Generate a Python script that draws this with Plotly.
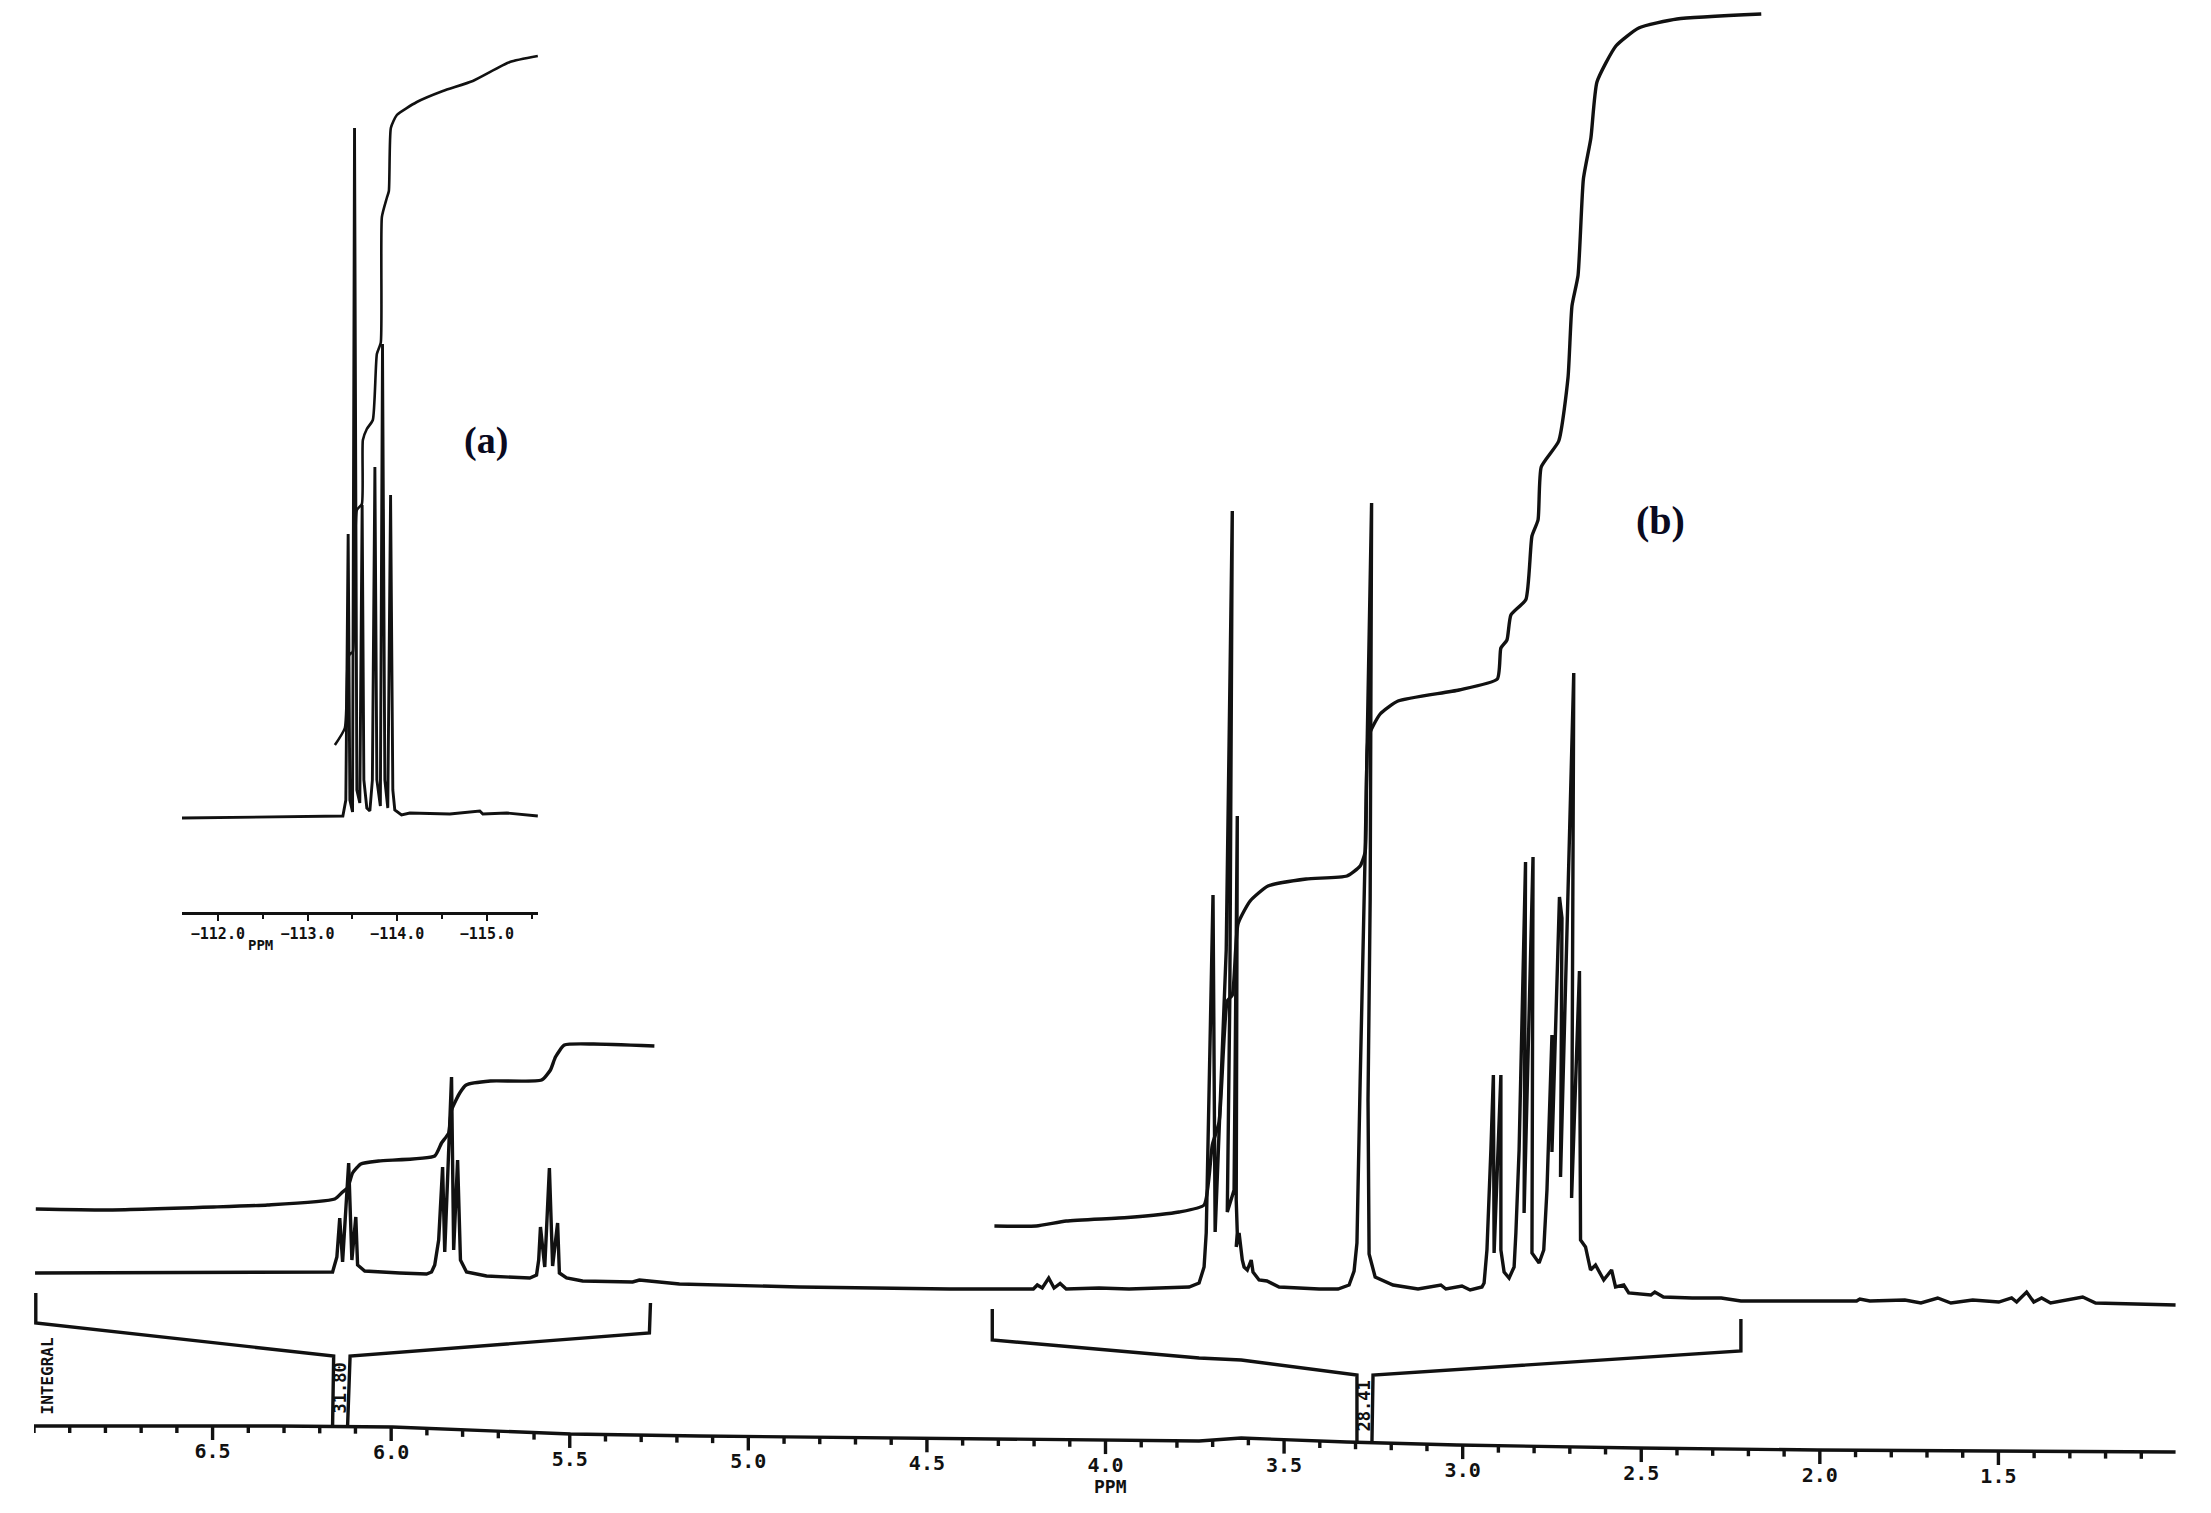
import numpy as np
import plotly.graph_objects as go

# main 1H spectrum, ppm against height above the baseline
h_ppm = [6.997,6.536,6.164,6.152,6.144,6.136,6.119,6.110,6.099,6.094,6.074,5.976,5.901,5.887,5.878,5.867,5.856,5.850,5.831,5.825,5.814,5.806,5.789,5.733,5.612,5.593,5.587,5.582,5.570,5.557,5.548,5.534,5.529,5.509,5.464,5.324,5.305,5.193,4.857,4.437,4.202,4.191,4.177,4.159,4.144,4.127,4.110,4.018,3.934,3.850,3.766,3.738,3.724,3.718,3.713,3.699,3.693,3.662,3.645,3.652,3.659,3.640,3.631,3.634,3.631,3.634,3.626,3.617,3.612,3.603,3.592,3.587,3.570,3.548,3.514,3.458,3.402,3.349,3.318,3.304,3.296,3.287,3.273,3.255,3.259,3.265,3.262,3.245,3.195,3.125,3.061,3.047,3.002,2.979,2.946,2.940,2.932,2.921,2.914,2.912,2.893,2.893,2.884,2.870,2.856,2.851,2.842,2.824,2.828,2.803,2.806,2.786,2.773,2.764,2.756,2.750,2.750,2.729,2.722,2.726,2.689,2.695,2.673,2.670,2.656,2.642,2.628,2.605,2.583,2.572,2.549,2.535,2.473,2.462,2.438,2.357,2.276,2.221,1.897,1.888,1.860,1.762,1.717,1.670,1.633,1.572,1.499,1.463,1.449,1.421,1.401,1.379,1.354,1.264,1.228,1.120,1.004]
h_int = [27,28,28,43,82,38,137,40,83,35,29,27,26,28,35,60,133,48,223,50,140,40,28,24,22,25,40,73,33,132,34,77,27,22,19,18,20,16,13,11,11,15,12,22,12,16.5,11,12,11,12,13,17,33,67,161,405,68,350,789,300,88,110,484,100,67,53,67,40,33,30,40,28,20,19,13,12,11,11,15,29,57,219,448,797,400,200,46,23,15,11,15,11,14,10,13,17,50,150,225,47,225,50,28,22,33,67,150,438,87,443,47,37,50,110,200,265,148,403,382,123,627,102,329,60,53,30,35,20,30,13,15,7,5,8,3,2,2,-1,-1,1,-1,0,-3,2,-3,0,-2,2,-2,8,-2,2,-3,3,-3,-4,-5]

# integral traces of the main spectrum
int_left_ppm = [6.995,6.796,6.497,6.346,6.158,6.136,6.122,6.108,6.085,6.035,5.878,5.859,5.839,5.831,5.808,5.790,5.722,5.579,5.554,5.540,5.515,5.433,5.263]
int_left = [91,90,93,95,101,108,112,127,136,139,144,157,167,190,207,215,219,220,230,243,255,256,254]
int_right_ppm = [4.311,4.194,4.110,3.938,3.794,3.724,3.701,3.682,3.659,3.645,3.629,3.595,3.545,3.438,3.324,3.287,3.273,3.264,3.231,3.181,3.010,2.903,2.893,2.876,2.865,2.823,2.806,2.789,2.780,2.731,2.705,2.694,2.677,2.662,2.641,2.624,2.571,2.507,2.400,2.164]
int_right = [74,74,79,82.5,88,95,155,178,299,305,376,399,414,421,424,434,448,563,586,599,610,621,652,660,685,700.5,764,780,833,859,922.5,994,1024.5,1121,1162,1218,1254,1272,1281,1286]

# integral brackets under the spectrum
br_left_ppm = [6.995,6.995,6.161,6.164,None,6.122,6.115,5.277,5.274]
br_left = [7,-23,-56,-125,None,-126,-56,-33,-3]
br_right_ppm = [4.317,4.317,3.738,3.620,3.296,3.296,None,3.254,3.251,2.221,2.221]
br_right = [-9,-40,-58,-60,-75,-142,None,-142,-75,-51,-19]

# the printed ppm scale runs slightly downhill across the sheet
scale_ppm = [7.0,6.670,6.320,5.996,5.722,5.498,5.137,3.738,3.620,3.324,3.016,2.509,2.006,1.004]
scale_h = [-126,-126,-126,-127,-131,-134,-136,-141,-138,-142,-145,-148,-150,-152]
major_ticks = [6.5,6.0,5.5,5.0,4.5,4.0,3.5,3.0,2.5,2.0,1.5]
major_labels = ["6.5","6.0","5.5","5.0","4.5","4.0","3.5","3.0","2.5","2.0","1.5"]
minor_ticks = [round(7.0-0.1*i,1) for i in range(61) if i%5!=0 or i==0]

# inset 19F spectrum
f_ppm = [-111.599,-112.469,-113.394,-113.427,-113.453,-113.472,-113.502,-113.524,-113.550,-113.583,-113.609,-113.628,-113.661,-113.695,-113.723,-113.751,-113.773,-113.812,-113.836,-113.862,-113.895,-113.926,-113.951,-113.973,-114.048,-114.141,-114.587,-114.921,-114.955,-115.222,-115.568]
f_int = [-1,0,1,17,283,17,5,689,27,14,312,37,9,6,37,350,37,11,473,37,9,322,27,7,2,4,3,6,3,4,1]
f_curve_ppm = [-113.305,-113.416,-113.449,-113.472,-113.505,-113.550,-113.606,-113.617,-113.661,-113.728,-113.773,-113.817,-113.829,-113.884,-113.907,-113.929,-113.996,-114.219,-114.509,-114.843,-115.256,-115.568]
f_curve = [72,89,157,163,165,307,313,377,388,397,463,474.5,600,619,626,689,702,715,726,736,755,761]
f_ticks = [-112.0,-113.0,-114.0,-115.0]
f_labels = ["\u2212112.0","\u2212113.0","\u2212114.0","\u2212115.0"]

INK = "#111111"
MONO = "DejaVu Sans Mono"

def scale_at(ppm):
    # height of the drawn scale line at a given ppm
    return np.interp(ppm, scale_ppm[::-1], scale_h[::-1])

def tick_segments(vals, length):
    xs, ys = [], []
    for v in vals:
        base = float(scale_at(v))
        xs += [v, v, None]
        ys += [base, base-length, None]
    return xs, ys

fig = go.Figure()

def add_line(x, y, width=3.4, xaxis="x", yaxis="y", shape="linear"):
    line = dict(color=INK, width=width, shape=shape)
    if shape == "spline":
        line["smoothing"] = 0.5
    fig.add_trace(go.Scatter(x=x, y=y, mode="lines", xaxis=xaxis, yaxis=yaxis, line=line,
                             connectgaps=False, hoverinfo="skip", showlegend=False))

add_line(h_ppm, h_int)
add_line(int_left_ppm, int_left, shape="spline")
add_line(int_right_ppm, int_right, shape="spline")
add_line(br_left_ppm, br_left)
add_line(br_right_ppm, br_right)
add_line(scale_ppm, scale_h)

tx, ty = tick_segments(major_ticks, 14)
add_line(tx, ty)
tx, ty = tick_segments(minor_ticks, 7)
add_line(tx, ty)

fig.add_trace(go.Scatter(x=major_ticks, y=[float(scale_at(v))-27 for v in major_ticks],
                         mode="text", text=major_labels, textposition="middle center",
                         textfont=dict(family=MONO, size=20, color=INK, weight=700),
                         hoverinfo="skip", showlegend=False))

add_line(f_ppm, f_int, width=2.9, xaxis="x2", yaxis="y2")
add_line(f_curve_ppm, f_curve, width=2.6, xaxis="x2", yaxis="y2", shape="spline")

fig.update_layout(
    width=2211, height=1513,
    margin=dict(l=0, r=0, t=0, b=0),
    paper_bgcolor="white", plot_bgcolor="rgba(0,0,0,0)",
    xaxis=dict(domain=[34/2211, 2177/2211], range=[7.0, 1.0], visible=False),
    yaxis=dict(domain=[0, 1], range=[-213, 1300], visible=False),
    xaxis2=dict(domain=[182/2211, 538/2211], range=[-111.6, -115.57], anchor="free",
                position=600/1513, showgrid=False, zeroline=False, showline=True,
                linecolor=INK, linewidth=2.6, ticks="outside", ticklen=6, tickcolor=INK,
                tickwidth=2, tickmode="array", tickvals=f_ticks, ticktext=f_labels,
                tickfont=dict(family=MONO, size=15, color=INK, weight=700),
                minor=dict(dtick=0.5, tick0=-112.0, ticks="outside", ticklen=4,
                           tickcolor=INK, tickwidth=2)),
    yaxis2=dict(domain=[0, 1], range=[-696, 817], overlaying="y", anchor="x2", visible=False),
)

def note(text, x, y, size, family=MONO, angle=0, xref="x", yref="y", weight=700, color=INK):
    fig.add_annotation(text=text, x=x, y=y, xref=xref, yref=yref, showarrow=False,
                       textangle=angle, font=dict(family=family, size=size, color=color, weight=weight))

note("(a)", -114.99, 377, 38, family="Liberation Serif", xref="x2", yref="y2", color="#0a0a20")
note("(b)", 2.446, 780, 40, family="Liberation Serif", color="#0a0a20")
note("PPM", -112.47, -128, 14, xref="x2", yref="y2")
note("PPM", 3.985, -186, 18)
note("INTEGRAL", 6.965, -76, 16, angle=-90)
note("31.80", 6.142, -88, 17, angle=-90)
note("28.41", 3.275, -106, 17, angle=-90)

fig.write_html("out.html", config={"displayModeBar": False},
               post_script="document.body.style.margin='0';")
